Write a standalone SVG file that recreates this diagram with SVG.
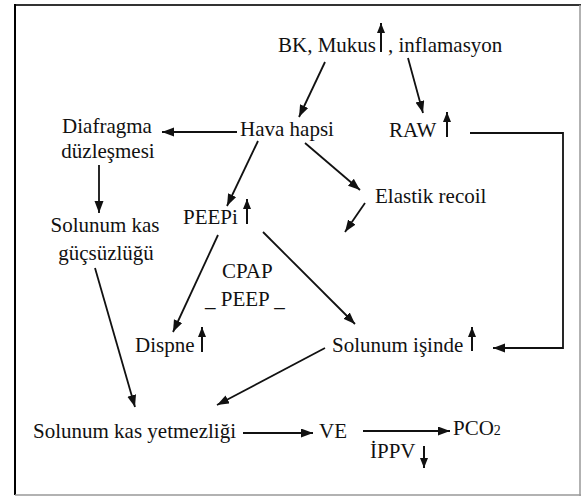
<svg xmlns="http://www.w3.org/2000/svg" width="581" height="496" viewBox="0 0 581 496">
<style>
text{font-family:"Liberation Serif","Times New Roman",serif;font-size:21px;fill:#111}
.c{text-anchor:middle}
.ln{stroke:#111;stroke-width:1.8;fill:none}
.up{stroke:#111;stroke-width:2;fill:none}
</style>
<defs>
<marker id="ah" markerUnits="userSpaceOnUse" markerWidth="13" markerHeight="10" refX="12" refY="4.5" orient="auto"><path d="M0,0 L12,4.5 L0,9 z" fill="#111"/></marker>
<marker id="sa" markerUnits="userSpaceOnUse" markerWidth="11" markerHeight="9" refX="10" refY="4" orient="auto"><path d="M0,0 L10,4 L0,8 z" fill="#111"/></marker>
</defs>
<rect width="581" height="496" fill="#fff"/>
<g id="frame">
<line x1="14" y1="5" x2="581" y2="5" stroke="#333" stroke-width="2"/>
<line x1="15" y1="4" x2="15" y2="495" stroke="#000" stroke-width="2"/>
<line x1="580" y1="5" x2="580" y2="496" stroke="#999" stroke-width="1.5"/>
<line x1="15" y1="495" x2="581" y2="495" stroke="#999" stroke-width="1.5"/>
</g>
<g id="connectors">
<line class="ln" x1="325" y1="62" x2="299" y2="117" marker-end="url(#ah)"/>
<line class="ln" x1="408" y1="58" x2="423" y2="113" marker-end="url(#ah)"/>
<line class="ln" x1="237" y1="132" x2="162" y2="132" marker-end="url(#ah)"/>
<line class="ln" x1="258" y1="141" x2="227" y2="206" marker-end="url(#ah)"/>
<line class="ln" x1="305" y1="143" x2="360" y2="190" marker-end="url(#ah)"/>
<line class="ln" x1="365" y1="203" x2="345" y2="232" marker-end="url(#ah)"/>
<polyline class="ln" points="470,133 563,133 563,348 493,348" marker-end="url(#ah)"/>
<line class="ln" x1="99" y1="165" x2="99" y2="213" marker-end="url(#ah)"/>
<line class="ln" x1="218" y1="235" x2="173" y2="332" marker-end="url(#ah)"/>
<line class="ln" x1="263" y1="232" x2="355" y2="324" marker-end="url(#ah)"/>
<line class="ln" x1="325" y1="348" x2="217" y2="405" marker-end="url(#ah)"/>
<line class="ln" x1="95" y1="268" x2="135" y2="407" marker-end="url(#ah)"/>
<line class="ln" x1="243" y1="433" x2="313" y2="433" marker-end="url(#ah)"/>
<line class="ln" x1="363" y1="431" x2="450" y2="431" marker-end="url(#ah)"/>
</g>
<g id="n-bk">
<text x="278" y="52">BK, Mukus</text>
<line class="up" x1="381" y1="52" x2="381" y2="23" marker-end="url(#sa)"/>
<text x="388" y="52">, inflamasyon</text>
</g>
<g id="n-hava"><text x="240" y="136">Hava hapsi</text></g>
<g id="n-raw">
<text x="389" y="137">RAW</text>
<line class="up" x1="447" y1="137" x2="447" y2="112" marker-end="url(#sa)"/>
</g>
<g id="n-diafragma">
<text class="c" x="107" y="133">Diafragma</text>
<text class="c" x="108" y="158">düzleşmesi</text>
</g>
<g id="n-guc">
<text class="c" x="105" y="232">Solunum kas</text>
<text class="c" x="106" y="260">güçsüzlüğü</text>
</g>
<g id="n-peepi">
<text x="183" y="224">PEEPi</text>
<line class="up" x1="247" y1="224" x2="247" y2="199" marker-end="url(#sa)"/>
</g>
<g id="n-elastik"><text x="375" y="203">Elastik recoil</text></g>
<g id="n-cpap">
<text x="222" y="278">CPAP</text>
<text x="205" y="306">_ PEEP _</text>
</g>
<g id="n-dispne">
<text x="135" y="352">Dispne</text>
<line class="up" x1="202" y1="352" x2="202" y2="327" marker-end="url(#sa)"/>
</g>
<g id="n-isinde">
<text x="332" y="352">Solunum işinde</text>
<line class="up" x1="472" y1="351" x2="472" y2="327" marker-end="url(#sa)"/>
</g>
<g id="n-yetmezligi"><text x="33" y="438">Solunum kas yetmezliği</text></g>
<g id="n-ve"><text x="319" y="438">VE</text></g>
<g id="n-pco2"><text x="453" y="435">PCO<tspan font-size="14">2</tspan></text></g>
<g id="n-ippv">
<text x="370" y="458">İPPV</text>
<line class="up" x1="424" y1="446" x2="424" y2="468" marker-end="url(#sa)"/>
</g>
</svg>
